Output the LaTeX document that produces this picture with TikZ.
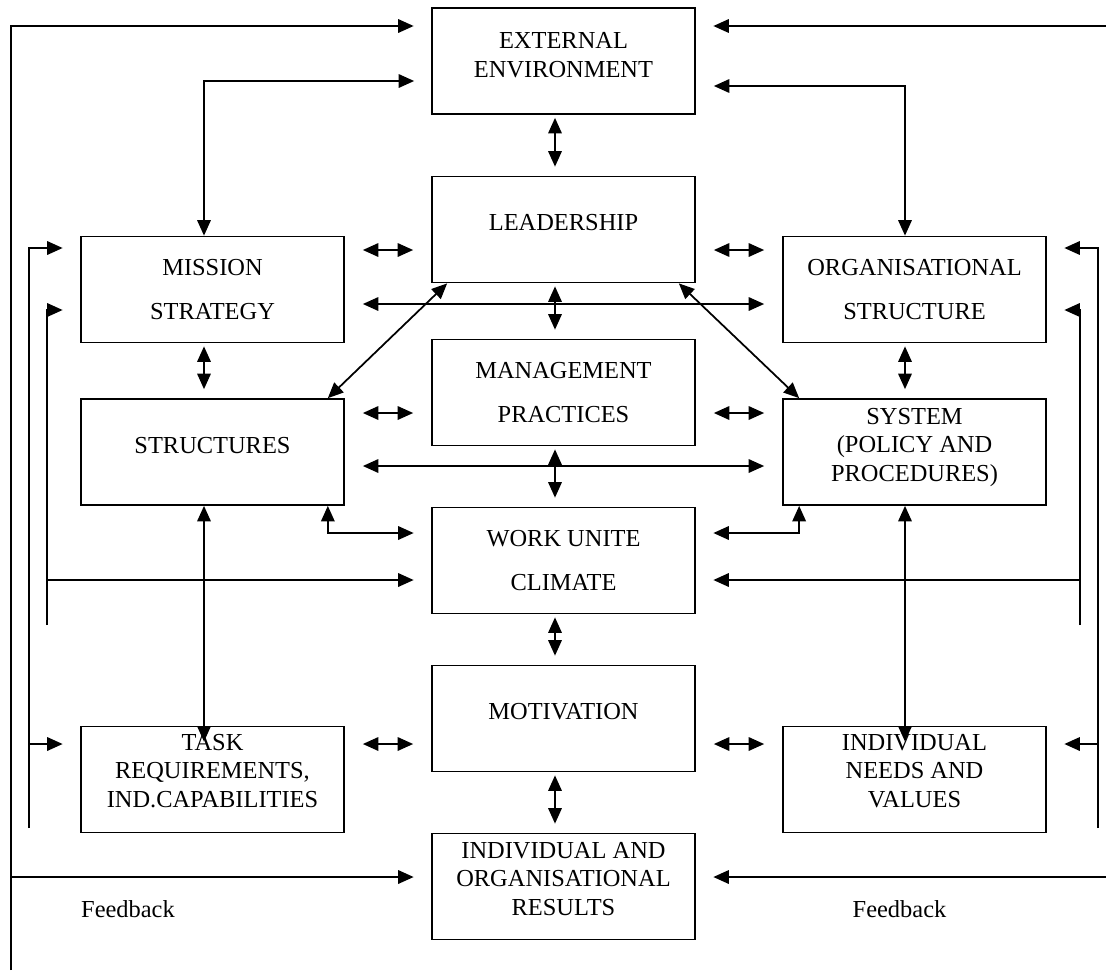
\documentclass[tikz,border=0pt]{standalone}
\usepackage{fontspec}
\setmainfont{Liberation Serif}
\usetikzlibrary{arrows.meta,calc}

\newcommand{\boxfont}{\fontsize{13.9pt}{16.2pt}\selectfont}

\begin{document}
\begin{tikzpicture}[x=0.02cm, y=-0.02cm, line width=1pt, font=\boxfont,
    >={Triangle[length=3.1mm,width=2.7mm]},
    box/.style={draw, minimum width=5.26cm, minimum height=2.12cm, inner sep=0pt, align=center},
    raised/.style={text depth=#1},
    gap/.style={shorten <=0.36cm, shorten >=0.36cm},
    gapend/.style={shorten >=0.35cm},
    vlink/.style={shorten <=0.06cm, shorten >=0.18cm}]
    \useasboundingbox (0,0) rectangle (1106,975);

    % centre column
    \node[box, raised=0.24cm] (ext) at (563.5,61) {EXTERNAL\\ENVIRONMENT};
    \node[box, raised=0.3cm] (lead) at (563.5,229.5) {LEADERSHIP};
    \node[box] (mgmt) at (563.5,392.5) {MANAGEMENT\\[8.7pt]PRACTICES};
    \node[box] (work) at (563.5,560.5) {WORK UNITE\\[8.7pt]CLIMATE};
    \node[box, raised=0.3cm] (motiv) at (563.5,718.5) {MOTIVATION};
    \node[box, raised=0.32cm] (results) at (563.5,886.5) {INDIVIDUAL AND\\ORGANISATIONAL\\RESULTS};
    % left column
    \node[box] (mission) at (212.5,289.5) {MISSION\\[8.7pt]STRATEGY};
    \node[box, raised=0.28cm] (struct) at (212.5,452) {STRUCTURES};
    \node[box, raised=0.36cm] (task) at (212.5,779.5) {TASK\\REQUIREMENTS,\\IND.CAPABILITIES};
    % right column
    \node[box] (org) at (914.5,289.5) {ORGANISATIONAL\\[8.7pt]STRUCTURE};
    \node[box, raised=0.3cm] (system) at (914.5,452) {SYSTEM\\(POLICY AND\\PROCEDURES)};
    \node[box, raised=0.36cm] (needs) at (914.5,779.5) {INDIVIDUAL\\NEEDS AND\\VALUES};

    \node (fbleft) at (128,909) {Feedback};
    \node (fbright) at (899.5,909) {Feedback};

    % x positions of the vertical links
    \coordinate (cx) at (555,0);
    \coordinate (lx) at (204,0);
    \coordinate (rx) at (905,0);

    % centre column links
    \draw[<->, vlink] (cx |- ext.south) -- (cx |- lead.north);
    \draw[<->, vlink] (cx |- lead.south) -- (cx |- mgmt.north);
    \draw[<->, vlink] (cx |- mgmt.south) -- (cx |- work.north);
    \draw[<->, vlink] (cx |- work.south) -- (cx |- motiv.north);
    \draw[<->, vlink] (cx |- motiv.south) -- (cx |- results.north);

    % side column links
    \draw[<->, vlink] (lx |- mission.south) -- (lx |- struct.north);
    \draw[<->, vlink] (rx |- org.south) -- (rx |- system.north);
    \draw[<->] (lx |- struct.south) -- ($(lx |- task.north)+(0,16)$);
    \draw[<->] (rx |- system.south) -- ($(rx |- needs.north)+(0,16)$);

    % environment to mission and organisation
    \draw[<->, shorten <=0.34cm] (ext.west |- 0,81) -| (lx |- mission.north);
    \draw[<->, shorten <=0.36cm] (ext.east |- 0,86) -| (rx |- org.north);

    % short links between the columns
    \draw[<->, gap] (mission.east |- 0,250) -- (lead.west |- 0,250);
    \draw[<->, gap] (lead.east |- 0,250) -- (org.west |- 0,250);
    \draw[<->, gap] (struct.east |- 0,413) -- (mgmt.west |- 0,413);
    \draw[<->, gap] (mgmt.east |- 0,413) -- (system.west |- 0,413);
    \draw[<->, gap] (task.east |- 0,744) -- (motiv.west |- 0,744);
    \draw[<->, gap] (motiv.east |- 0,744) -- (needs.west |- 0,744);

    % long links across
    \draw[<->, gap] (mission.east |- 0,304) -- (org.west |- 0,304);
    \draw[<->, gap] (struct.east |- 0,466) -- (system.west |- 0,466);

    % diagonals from leadership
    \draw[<->] ($(lead.south west)+(16,0)$) -- ($(struct.north east)+(-17,0)$);
    \draw[<->] ($(lead.south east)+(-17,0)$) -- ($(system.north west)+(17,0)$);

    % structures/system to work unit climate
    \draw[<->, gapend] ($(struct.south east)+(-17,0)$) |- (work.west |- 0,533);
    \draw[<->, gapend] ($(system.south west)+(17,0)$) |- (work.east |- 0,533);

    % outer feedback loop
    \coordinate (fb) at (11,970);
    \draw[->, gapend] (fb) |- (ext.west |- 0,26);
    \draw[->, gapend] (fb |- 0,877) -- (results.west |- 0,877);
    \coordinate (fbtop) at (1106,26);
    \draw[->, gapend] (fbtop) -- (ext.east |- fbtop);
    \coordinate (fbbot) at (1106,877);
    \draw[->, gapend] (fbbot) -- (results.east |- fbbot);

    % inner feedback lines, left
    \coordinate (la) at (29,828);
    \draw[->, gapend] (la) |- (mission.west |- 0,248);
    \draw[->, gapend] (la |- 0,744) -- (task.west |- 0,744);
    \coordinate (lb) at (47,625);
    \draw[->, gapend] (lb) |- (mission.west |- 0,310);
    \draw[->, gapend] (lb |- 0,580) -- (work.west |- 0,580);

    % inner feedback lines, right
    \coordinate (ra) at (1098,828);
    \draw[->, gapend] (ra) |- (org.east |- 0,248);
    \draw[->, gapend] (ra |- 0,744) -- (needs.east |- 0,744);
    \coordinate (rb) at (1080,625);
    \draw[->, gapend] (rb) |- (org.east |- 0,310);
    \draw[->, gapend] (rb |- 0,580) -- (work.east |- 0,580);
\end{tikzpicture}
\end{document}
